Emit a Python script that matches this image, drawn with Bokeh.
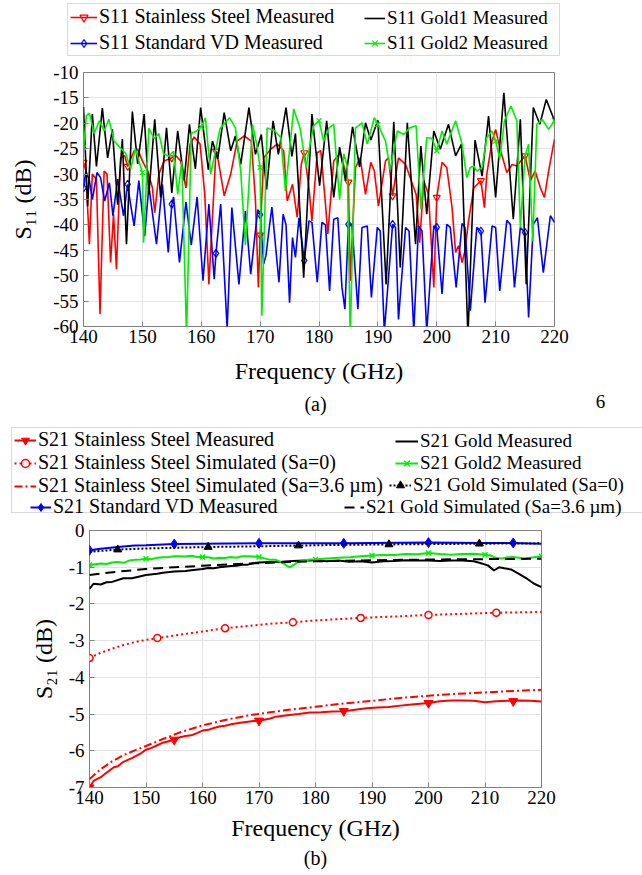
from bokeh.plotting import figure
from bokeh.models import Legend, LegendItem, Range1d, FixedTicker, Label, Title, PrintfTickFormatter
from bokeh.embed import file_html
from bokeh.resources import INLINE

SERIF = "Liberation Serif"

# ---------------- (a) S11 data (freq GHz, dB) ----------------
s11_ss = [(140.0,-27.7),(140.4,-29.4),(141.0,-43.8),(141.5,-30.0),(142.2,-31.0),(142.8,-57.6),(143.5,-29.4),(144.0,-30.0),
          (144.6,-47.4),(145.1,-37.9),(145.6,-48.7),(146.3,-26.8),(147.0,-26.4),(147.5,-28.5),(148.6,-25.4),(149.2,-25.1),
          (150.0,-27.4),(150.9,-29.4),(151.7,-32.7),(152.1,-37.6),(152.8,-30.0),(153.7,-27.4),(155.0,-26.8),(155.7,-26.4),
          (156.5,-27.4),(157.4,-32.7),(158.1,-24.1),(158.8,-22.7),(159.8,-24.1),(160.6,-34.0),(161.3,-51.7),(162.5,-25.5),
          (162.9,-27.4),(163.9,-34.3),(165.0,-30.0),(166.1,-23.5),(167.3,-22.5),(168.5,-23.5),(169.2,-35.0),(169.7,-52.3),
          (170.0,-42.0),(170.6,-26.8),(171.8,-25.1),(172.9,-24.1),(174.0,-25.4),(174.6,-35.3),(175.5,-32.0),(176.3,-38.5),
          (177.0,-28.0),(177.5,-25.8),(178.3,-32.7),(178.8,-39.2),(179.7,-25.8),(180.3,-25.4),(181.1,-35.9),(181.5,-41.8),
          (182.5,-27.4),(183.6,-25.8),(185.0,-31.6),(185.3,-51.0),(186.2,-28.7),(187.0,-26.8),(187.9,-34.0),(188.8,-27.7),
          (189.4,-29.4),(190.1,-36.3),(191.3,-27.4),(191.8,-26.8),(192.5,-34.3),(193.5,-26.8),(194.7,-28.1),(195.5,-30.7),
          (196.5,-34.0),(197.1,-43.5),(197.8,-31.3),(198.6,-34.0),(199.5,-52.3),(200.0,-34.6),(200.9,-27.7),(201.7,-28.7),
          (202.6,-36.6),(203.2,-45.4),(203.7,-44.1),(204.3,-47.4),(204.8,-45.1),(205.4,-39.2),(206.3,-32.7),(207.5,-31.3),
          (208.1,-36.6),(208.5,-30.0),(209.4,-23.5),(210.0,-21.2),(210.7,-24.8),(211.9,-29.7),(212.8,-28.1),(213.6,-28.4),
          (214.5,-27.1),(215.0,-26.4),(215.9,-31.3),(216.7,-29.4),(217.6,-32.7),(218.3,-34.6),(219.0,-29.4),(220.0,-23.1)]
s11_ss_markers = [(140,-27.7),(147.5,-28.5),(155,-26.8),(162.5,-25.5),(170,-42.0),(177.5,-25.8),(185,-31.6),
                  (192.5,-34.3),(200,-34.6),(207.5,-31.3),(215,-26.4)]

s11_vd = [(140.0,-32.7),(140.4,-29.4),(141.0,-31.3),(141.5,-35.0),(142.3,-29.7),(142.9,-30.7),(143.6,-35.3),(144.4,-31.7),
          (145.0,-38.2),(145.8,-31.0),(146.8,-38.2),(147.5,-32.0),(148.0,-36.0),(148.6,-40.2),(149.4,-31.3),(150.4,-42.2),
          (151.1,-32.3),(152.4,-43.8),(153.4,-32.0),(154.4,-45.4),(155.0,-35.9),(155.3,-34.5),(156.3,-47.4),(157.4,-35.5),
          (158.3,-44.0),(159.3,-34.5),(160.3,-51.0),(161.3,-35.9),(162.2,-50.7),(162.5,-45.6),(163.3,-35.9),(164.4,-60.5),
          (165.2,-36.6),(166.4,-51.7),(167.5,-37.3),(168.4,-49.7),(169.6,-37.0),(170.0,-38.0),(170.6,-47.7),(171.0,-46.0),
          (171.5,-41.0),(172.0,-36.5),(173.2,-51.3),(173.9,-37.9),(174.4,-40.0),(175.0,-55.3),(175.5,-42.5),(176.0,-46.4),
          (176.6,-38.6),(177.5,-47.0),(178.3,-39.2),(178.8,-39.5),(179.7,-51.3),(180.5,-39.5),(181.1,-40.0),(181.8,-53.0),
          (182.5,-38.9),(183.2,-38.6),(183.9,-52.3),(184.4,-56.6),(185.0,-39.9),(185.6,-39.9),(186.6,-56.6),(187.3,-40.5),
          (188.2,-40.2),(188.9,-54.3),(189.9,-40.5),(190.4,-41.2),(191.1,-61.0),(192.5,-39.9),(193.0,-40.5),(193.5,-58.6),
          (194.7,-40.5),(195.3,-41.2),(196.1,-61.0),(196.9,-40.2),(197.5,-41.2),(198.3,-61.0),(199.5,-40.2),(200.0,-40.5),
          (200.9,-53.6),(201.7,-39.9),(202.3,-40.5),(203.3,-52.3),(204.3,-39.7),(204.8,-40.5),(205.7,-56.9),(206.8,-40.5),
          (207.5,-41.2),(208.2,-55.3),(209.4,-40.2),(210.0,-40.5),(210.7,-53.0),(211.9,-39.1),(212.5,-39.9),(213.2,-52.3),
          (214.2,-40.5),(215.0,-41.5),(215.6,-58.2),(216.4,-39.9),(217.1,-38.6),(218.1,-49.4),(219.3,-38.2),(220.0,-39.5)]
s11_vd_markers = [(140,-32.7),(147.5,-32.0),(155,-35.9),(162.5,-45.6),(170,-38.0),(177.5,-47.0),(185,-39.9),
                  (192.5,-39.9),(200,-40.5),(207.5,-41.2),(215,-41.5)]

s11_gold1 = [(140.0,-16.8),(140.7,-36.3),(141.5,-18.2),(142.2,-28.5),(143.2,-17.0),(144.1,-26.8),(144.9,-21.2),(145.8,-36.0),
             (146.6,-23.1),(147.3,-43.8),(148.3,-17.7),(149.2,-28.0),(150.3,-18.2),(151.1,-34.0),(152.1,-19.2),(153.1,-34.6),
             (154.1,-20.9),(155.0,-33.7),(156.0,-21.5),(157.1,-31.3),(158.0,-20.2),(159.0,-29.0),(159.9,-16.9),(161.2,-29.1),
             (161.9,-23.5),(162.8,-27.0),(163.9,-17.9),(165.0,-25.4),(165.8,-22.5),(166.7,-28.1),(168.1,-16.9),(169.2,-26.1),
             (170.2,-22.2),(171.1,-33.0),(172.2,-19.5),(173.1,-26.1),(174.4,-16.9),(175.4,-26.5),(176.0,-22.0),(177.4,-50.4),
             (178.8,-18.2),(180.1,-32.3),(181.3,-19.5),(182.5,-34.6),(183.5,-24.7),(184.5,-31.3),(185.7,-20.7),(186.9,-28.6),
             (187.9,-19.9),(188.8,-23.3),(190.0,-19.4),(191.4,-51.7),(192.7,-19.7),(193.8,-48.4),(195.0,-19.9),(196.4,-43.8),
             (197.3,-24.5),(198.3,-37.9),(199.5,-21.5),(200.6,-25.1),(202.0,-20.2),(203.2,-26.4),(204.2,-24.1),(205.3,-62.0),
             (206.5,-23.3),(207.7,-30.4),(208.8,-18.6),(210.0,-34.6),(211.4,-14.0),(213.0,-38.9),(214.2,-19.2),(215.2,-51.7),
             (216.4,-16.9),(217.5,-20.2),(218.6,-15.3),(220.0,-19.5)]

s11_gold2 = [(140.0,-24.8),(140.5,-18.5),(141.0,-18.0),(141.8,-22.0),(142.7,-19.5),(143.5,-21.5),(144.3,-19.2),(145.2,-23.5),
             (146.0,-24.5),(147.2,-26.0),(148.0,-29.0),(148.8,-25.0),(150.0,-29.7),(150.2,-43.5),(151.1,-21.0),(152.0,-23.0),
             (152.8,-22.0),(153.6,-26.0),(154.5,-26.5),(155.3,-25.5),(156.0,-34.0),(156.7,-27.5),(157.5,-62.0),(158.3,-22.0),
             (159.2,-21.5),(160.0,-20.7),(160.7,-18.9),(161.6,-30.0),(163.2,-21.0),(164.8,-18.9),(165.8,-20.9),(166.7,-29.4),
             (167.5,-44.0),(168.7,-20.2),(169.4,-24.0),(170.0,-28.7),(170.3,-57.9),(171.2,-20.9),(172.5,-21.5),(173.5,-22.8),
             (174.3,-33.3),(175.7,-17.2),(176.8,-21.0),(177.8,-28.7),(178.5,-24.0),(179.1,-20.5),(180.0,-19.5),(180.8,-23.5),
             (181.7,-20.9),(182.5,-20.2),(183.5,-35.0),(184.2,-26.0),(184.8,-28.4),(185.3,-62.0),(186.2,-20.9),(187.3,-19.9),
             (188.2,-24.1),(189.4,-18.9),(190.0,-20.2),(191.3,-23.5),(192.1,-29.1),(193.3,-21.5),(194.4,-22.2),(195.4,-20.9),
             (196.5,-20.5),(197.3,-36.9),(198.3,-22.8),(199.2,-23.0),(200.0,-25.4),(200.9,-21.5),(201.7,-24.1),(203.2,-19.5),
             (204.3,-24.1),(205.1,-30.7),(205.7,-28.7),(206.3,-28.4),(206.8,-29.4),(207.7,-28.7),(208.5,-22.8),(209.4,-21.5),
             (210.0,-23.5),(210.7,-27.1),(211.5,-19.5),(212.6,-16.6),(213.6,-19.5),(214.2,-40.5),(215.0,-26.4),(215.6,-24.1),
             (216.3,-43.2),(217.0,-20.2),(217.9,-19.2),(219.0,-21.2),(220.0,-19.5)]
s11_gold2_markers = [(140,-24.8),(150,-29.7),(160,-20.7),(170,-28.7),(180,-19.5),(190,-20.2),(200,-25.4),(210,-23.5),(220,-19.5)]

# ---------------- (b) S21 data (freq GHz, dB) ----------------
s21_ss_meas = [(140,-7.0),(140.7,-6.82),(142,-6.72),(143,-6.6),(144.3,-6.45),(145,-6.42),(146,-6.3),(147.5,-6.2),(149,-6.08),
               (150,-5.97),(151,-5.92),(152,-5.85),(153,-5.78),(155,-5.70),(156,-5.63),(157,-5.60),(158,-5.58),(159,-5.52),
               (160,-5.45),(161,-5.43),(162,-5.38),(163,-5.34),(164,-5.32),(165,-5.28),(167,-5.23),(169,-5.19),(170,-5.18),
               (172,-5.12),(173,-5.07),(175,-5.03),(177,-5.00),(179,-4.96),(181,-4.95),(183,-4.93),(185,-4.92),(187,-4.88),
               (189,-4.84),(191,-4.82),(193,-4.81),(195,-4.77),(197,-4.74),(199,-4.71),(200,-4.70),(202,-4.65),(204,-4.63),
               (206,-4.63),(208,-4.64),(210,-4.68),(212,-4.65),(214,-4.64),(216,-4.63),(218,-4.64),(220,-4.66)]
s21_ss_meas_markers = [(140,-7.0),(155,-5.70),(170,-5.18),(185,-4.92),(200,-4.70),(215,-4.65)]

s21_ss_sim0 = [(140,-3.47),(142,-3.33),(144,-3.22),(146,-3.12),(148,-3.04),(150,-2.98),(152,-2.93),(156,-2.84),(160,-2.75),
               (164,-2.66),(168,-2.60),(172,-2.54),(176,-2.50),(180,-2.45),(188,-2.38),(196,-2.33),(200,-2.30),(206,-2.27),
               (212,-2.24),(220,-2.22)]
s21_ss_sim0_markers = [(140,-3.47),(152,-2.93),(164,-2.66),(176,-2.50),(188,-2.38),(200,-2.30),(212,-2.24)]

s21_ss_sim36 = [(140,-6.77),(142,-6.50),(144,-6.29),(146,-6.12),(148,-5.99),(150,-5.87),(153,-5.68),(156,-5.50),(160,-5.31),
                (164,-5.16),(168,-5.04),(172,-4.95),(176,-4.87),(180,-4.80),(185,-4.71),(190,-4.64),(195,-4.56),(200,-4.50),
                (205,-4.45),(210,-4.41),(215,-4.37),(220,-4.34)]

s21_vd = [(140,-0.54),(142,-0.50),(145,-0.45),(148,-0.41),(150,-0.40),(155,-0.37),(160,-0.36),(170,-0.35),(180,-0.35),
          (185,-0.35),(190,-0.34),(200,-0.33),(210,-0.34),(215,-0.34),(220,-0.36)]
s21_vd_markers = [(140,-0.54),(155,-0.37),(170,-0.35),(185,-0.35),(200,-0.33),(215,-0.34)]

s21_gold_meas = [(140,-1.59),(140.7,-1.45),(142,-1.47),(143,-1.41),(144,-1.40),(146,-1.30),(147.5,-1.30),(150,-1.21),
                 (152,-1.18),(153,-1.15),(155,-1.12),(157,-1.10),(158,-1.08),(160,-1.05),(161,-1.02),(162,-1.03),(163,-1.00),
                 (165,-0.97),(166,-0.96),(167,-0.93),(168,-0.93),(169,-0.89),(170,-0.87),(172,-0.86),(174,-0.85),(176,-0.83),
                 (178,-0.82),(180,-0.82),(182,-0.84),(184,-0.82),(186,-0.85),(188,-0.84),(190,-0.87),(192,-0.84),(194,-0.83),
                 (196,-0.81),(198,-0.82),(200,-0.82),(202,-0.83),(204,-0.82),(206,-0.82),(208,-0.84),(209,-0.88),(210.5,-0.95),
                 (211.6,-1.09),(212.5,-1.00),(213.4,-1.03),(214.6,-1.06),(216,-1.18),(217.5,-1.32),(218.7,-1.45),(220,-1.54)]

s21_gold2 = [(140,-0.94),(141,-0.92),(142,-0.90),(143,-0.91),(144,-0.87),(145,-0.86),(146,-0.88),(147,-0.82),(148,-0.80),
             (149,-0.79),(150,-0.77),(151,-0.78),(152,-0.74),(153,-0.73),(154,-0.72),(155,-0.70),(156,-0.70),(157,-0.71),
             (158,-0.69),(159,-0.72),(160,-0.72),(161,-0.73),(162,-0.76),(163,-0.74),(164,-0.75),(165,-0.72),(166,-0.74),
             (167,-0.70),(168,-0.70),(169,-0.71),(170,-0.72),(171,-0.76),(172,-0.80),(173,-0.80),(174,-0.86),(175,-0.97),
             (175.5,-1.0),(176,-0.95),(177,-0.85),(178,-0.82),(179,-0.79),(180,-0.79),(182,-0.76),(184,-0.74),(186,-0.73),
             (188,-0.70),(190,-0.68),(192,-0.67),(194,-0.67),(196,-0.64),(198,-0.65),(200,-0.61),(202,-0.64),(204,-0.66),
             (206,-0.64),(208,-0.63),(210,-0.66),(211,-0.68),(212,-0.75),(213,-0.76),(214,-0.73),(215,-0.72),(216,-0.74),
             (217,-0.76),(218,-0.74),(219,-0.72),(220,-0.70)]
s21_gold2_markers = [(140,-0.94),(150,-0.77),(160,-0.72),(170,-0.72),(180,-0.79),(190,-0.68),(200,-0.61),(210,-0.66),(220,-0.70)]

s21_gold_sim0 = [(140,-0.58),(145,-0.52),(150,-0.49),(155,-0.47),(161,-0.45),(170,-0.43),(177,-0.41),(185,-0.39),
                 (193,-0.38),(200,-0.37),(209,-0.36),(220,-0.35)]
s21_gold_sim0_markers = [(145,-0.52),(161,-0.45),(177,-0.41),(193,-0.38),(209,-0.36)]

s21_gold_sim36 = [(140,-1.21),(145,-1.12),(150,-1.05),(155,-1.00),(160,-0.96),(165,-0.92),(170,-0.89),(175,-0.86),
                  (180,-0.84),(190,-0.81),(200,-0.79),(210,-0.78),(220,-0.77)]

x_ticks = [140, 150, 160, 170, 180, 190, 200, 210, 220]
y_ticks_a = [-60, -55, -50, -45, -40, -35, -30, -25, -20, -15, -10]
y_ticks_b = [-7, -6, -5, -4, -3, -2, -1, 0]


def xs(pairs):
    return [p[0] for p in pairs]


def ys(pairs):
    return [p[1] for p in pairs]


FRAME = "#808080"
RED, BLUE, GREEN = "#ff0000", "#0000ff", "#00ee00"

ST = {
    "a_ss": (dict(line_color=RED, line_width=1.6),
             dict(marker="inverted_triangle", size=7, line_color=RED, fill_color=None, line_width=1.2)),
    "a_vd": (dict(line_color=BLUE, line_width=1.6),
             dict(marker="diamond", size=8, line_color=BLUE, fill_color=None, line_width=1.2)),
    "a_g1": (dict(line_color="black", line_width=1.6), None),
    "a_g2": (dict(line_color=GREEN, line_width=1.6),
             dict(marker="x", size=7, line_color=GREEN, line_width=1.2)),
    "b_ssm": (dict(line_color=RED, line_width=2),
              dict(marker="inverted_triangle", size=9, line_color=RED, fill_color=RED)),
    "b_ss0": (dict(line_color=RED, line_width=2, line_dash="2 3"),
              dict(marker="circle", size=7, line_color=RED, fill_color="white", line_width=1.5)),
    "b_ss36": (dict(line_color=RED, line_width=2, line_dash="8 3 2 3"), None),
    "b_vd": (dict(line_color=BLUE, line_width=2),
             dict(marker="diamond", size=10, line_color=BLUE, fill_color=BLUE)),
    "b_gm": (dict(line_color="black", line_width=2), None),
    "b_g2": (dict(line_color=GREEN, line_width=2),
             dict(marker="x", size=7, line_color=GREEN, line_width=1.5)),
    "b_g0": (dict(line_color="black", line_width=2, line_dash="2 2"),
             dict(marker="triangle", size=8, line_color="black", fill_color="black")),
    "b_g36": (dict(line_color="black", line_width=2, line_dash="10 6"), None),
}


def draw(p, key, line_pts, marker_pts=None):
    lkw, mkw = ST[key]
    p.line(xs(line_pts), ys(line_pts), **lkw)
    if mkw is not None:
        p.scatter(xs(marker_pts), ys(marker_pts), **mkw)


OFF = [-5000, -4999]  # off-canvas sample so legend swatches get drawn


def legend_glyphs(p, key):
    lkw, mkw = ST[key]
    rs = [p.line(OFF, OFF, **lkw)]
    if mkw is not None:
        rs.append(p.scatter(OFF, OFF, **mkw))
    return rs


def style(p, yticks, ylabel, ylabel_standoff):
    p.background_fill_color = "white"
    p.border_fill_color = "white"
    p.outline_line_color = FRAME
    p.outline_line_width = 1
    p.xaxis.ticker = FixedTicker(ticks=x_ticks)
    p.yaxis.ticker = FixedTicker(ticks=yticks)
    p.xgrid.ticker = FixedTicker(ticks=x_ticks)
    p.ygrid.ticker = FixedTicker(ticks=yticks)
    p.yaxis.formatter = PrintfTickFormatter(format="%d")
    p.xaxis.formatter = PrintfTickFormatter(format="%d")
    p.grid.grid_line_color = "#e3e3e3"
    p.grid.grid_line_width = 1
    for ax in (p.xaxis[0], p.yaxis[0]):
        ax.axis_line_color = None
        ax.major_tick_in = 5
        ax.major_tick_out = 0
        ax.major_tick_line_color = FRAME
        ax.minor_tick_line_color = None
        ax.major_label_text_font = SERIF
        ax.major_label_text_font_size = "19px"
        ax.major_label_text_color = "black"
        ax.axis_label_text_font = SERIF
        ax.axis_label_text_font_size = "24px"
        ax.axis_label_text_font_style = "normal"
        ax.axis_label_text_color = "black"
    p.xaxis.major_label_standoff = 3
    p.xaxis.axis_label_standoff = 12
    p.yaxis.major_label_standoff = 5
    p.yaxis.axis_label_standoff = ylabel_standoff
    p.xaxis.axis_label = "Frequency (GHz)"
    p.yaxis.axis_label = ylabel


def strip(height):
    s = figure(width=642, height=height, output_backend="svg", toolbar_location=None,
               x_range=Range1d(0, 642), y_range=Range1d(height, 0),
               x_axis_location=None, y_axis_location=None, min_border=0)
    s.outline_line_color = None
    s.background_fill_color = "white"
    s.border_fill_color = "white"
    s.xgrid.visible = False
    s.ygrid.visible = False
    return s


def box_legend(p, x, y, w, h):
    dummy = p.line(OFF, OFF, line_alpha=0)
    lg = Legend(items=[LegendItem(label=" ", renderers=[dummy])], location=(x, y),
                label_width=w, label_height=h, glyph_width=1, glyph_height=h,
                label_standoff=0, padding=0, spacing=0, margin=0,
                label_text_font_size="2px",
                border_line_color="#b4b4b4", border_line_width=1,
                background_fill_color="white", background_fill_alpha=1)
    p.add_layout(lg)


def item_legend(p, items, x, y, gw, spacing, size="20px"):
    lg = Legend(items=items, location=(x, y), glyph_width=gw, glyph_height=20, label_height=20,
                label_standoff=2, padding=0, spacing=spacing, margin=0,
                label_text_font=SERIF, label_text_font_size=size, label_text_color="black",
                border_line_alpha=0, background_fill_alpha=0)
    p.add_layout(lg)


# ---------------- legend strip (a) ----------------
la = strip(60)
box_legend(la, 67, 4, 490, 51)
item_legend(la, [LegendItem(label="S11 Stainless Steel Measured", renderers=legend_glyphs(la, "a_ss")),
                 LegendItem(label="S11 Standard VD Measured", renderers=legend_glyphs(la, "a_vd"))],
            70, 6, 27, 3, size="20px")
item_legend(la, [LegendItem(label="S11 Gold1 Measured", renderers=legend_glyphs(la, "a_g1")),
                 LegendItem(label="S11 Gold2 Measured", renderers=legend_glyphs(la, "a_g2"))],
            364, 6, 21, 3, size="19px")

# ---------------- figure (a) ----------------
pa = figure(width=642, height=332, output_backend="svg", toolbar_location=None,
            x_range=Range1d(140, 220), y_range=Range1d(-60, -10),
            min_border_left=83, min_border_right=88, min_border_top=12, min_border_bottom=66)
style(pa, y_ticks_a, "S\u2081\u2081 (dB)", 14)
draw(pa, "a_ss", s11_ss, s11_ss_markers)
draw(pa, "a_vd", s11_vd, s11_vd_markers)
draw(pa, "a_g1", s11_gold1)
draw(pa, "a_g2", s11_gold2, s11_gold2_markers)

# ---------------- legend strip (b), also carrying "(a)" and "6" ----------------
lb = strip(128)
lb.add_layout(Label(x=315, y=11, text="(a)", text_font=SERIF, text_font_size="20px",
                    text_align="center", text_baseline="middle", text_color="black"))
lb.add_layout(Label(x=600, y=9, text="6", text_font=SERIF, text_font_size="19px",
                    text_align="center", text_baseline="middle", text_color="black"))
box_legend(lb, 11, 7, 640, 84)
item_legend(lb, [LegendItem(label="S21 Stainless Steel Measured", renderers=legend_glyphs(lb, "b_ssm")),
                 LegendItem(label="S21 Stainless Steel Simulated (Sa=0)", renderers=legend_glyphs(lb, "b_ss0")),
                 LegendItem(label="S21 Stainless Steel Simulated (Sa=3.6 \u00b5m)", renderers=legend_glyphs(lb, "b_ss36"))],
            14, 23, 22, -1)
item_legend(lb, [LegendItem(label="S21 Standard VD Measured", renderers=legend_glyphs(lb, "b_vd"))], 30, 2, 21, 0)
item_legend(lb, [LegendItem(label="S21 Gold Measured", renderers=legend_glyphs(lb, "b_gm")),
                 LegendItem(label="S21 Gold2 Measured", renderers=legend_glyphs(lb, "b_g2"))],
            395, 46, 23, 0, size="19px")
item_legend(lb, [LegendItem(label="S21 Gold Simulated (Sa=0)", renderers=legend_glyphs(lb, "b_g0"))],
            389, 24, 22, 0, size="19px")
item_legend(lb, [LegendItem(label="S21 Gold Simulated (Sa=3.6 \u00b5m)", renderers=legend_glyphs(lb, "b_g36"))],
            344, 2, 20, 0, size="19px")

# ---------------- figure (b) ----------------
pb = figure(width=642, height=355, output_backend="svg", toolbar_location=None,
            x_range=Range1d(140, 220), y_range=Range1d(-7, 0),
            min_border_left=89, min_border_right=101, min_border_top=10, min_border_bottom=88)
style(pb, y_ticks_b, "S\u2082\u2081 (dB)", 9)
pb.xaxis.axis_label_standoff = 8
draw(pb, "b_ssm", s21_ss_meas, s21_ss_meas_markers)
draw(pb, "b_ss0", s21_ss_sim0, s21_ss_sim0_markers)
draw(pb, "b_ss36", s21_ss_sim36)
draw(pb, "b_vd", s21_vd, s21_vd_markers)
draw(pb, "b_gm", s21_gold_meas)
draw(pb, "b_g2", s21_gold2, s21_gold2_markers)
draw(pb, "b_g0", s21_gold_sim0, s21_gold_sim0_markers)
draw(pb, "b_g36", s21_gold_sim36)
pb.add_layout(Title(text="(b)", align="center", text_font=SERIF, text_font_size="20px",
                    text_font_style="normal", text_color="black", standoff=2), "below")

# separate roots stacked on the page, so the plot frames are not forced into alignment
open("out.html", "w").write(file_html([la, pa, lb, pb], INLINE))
